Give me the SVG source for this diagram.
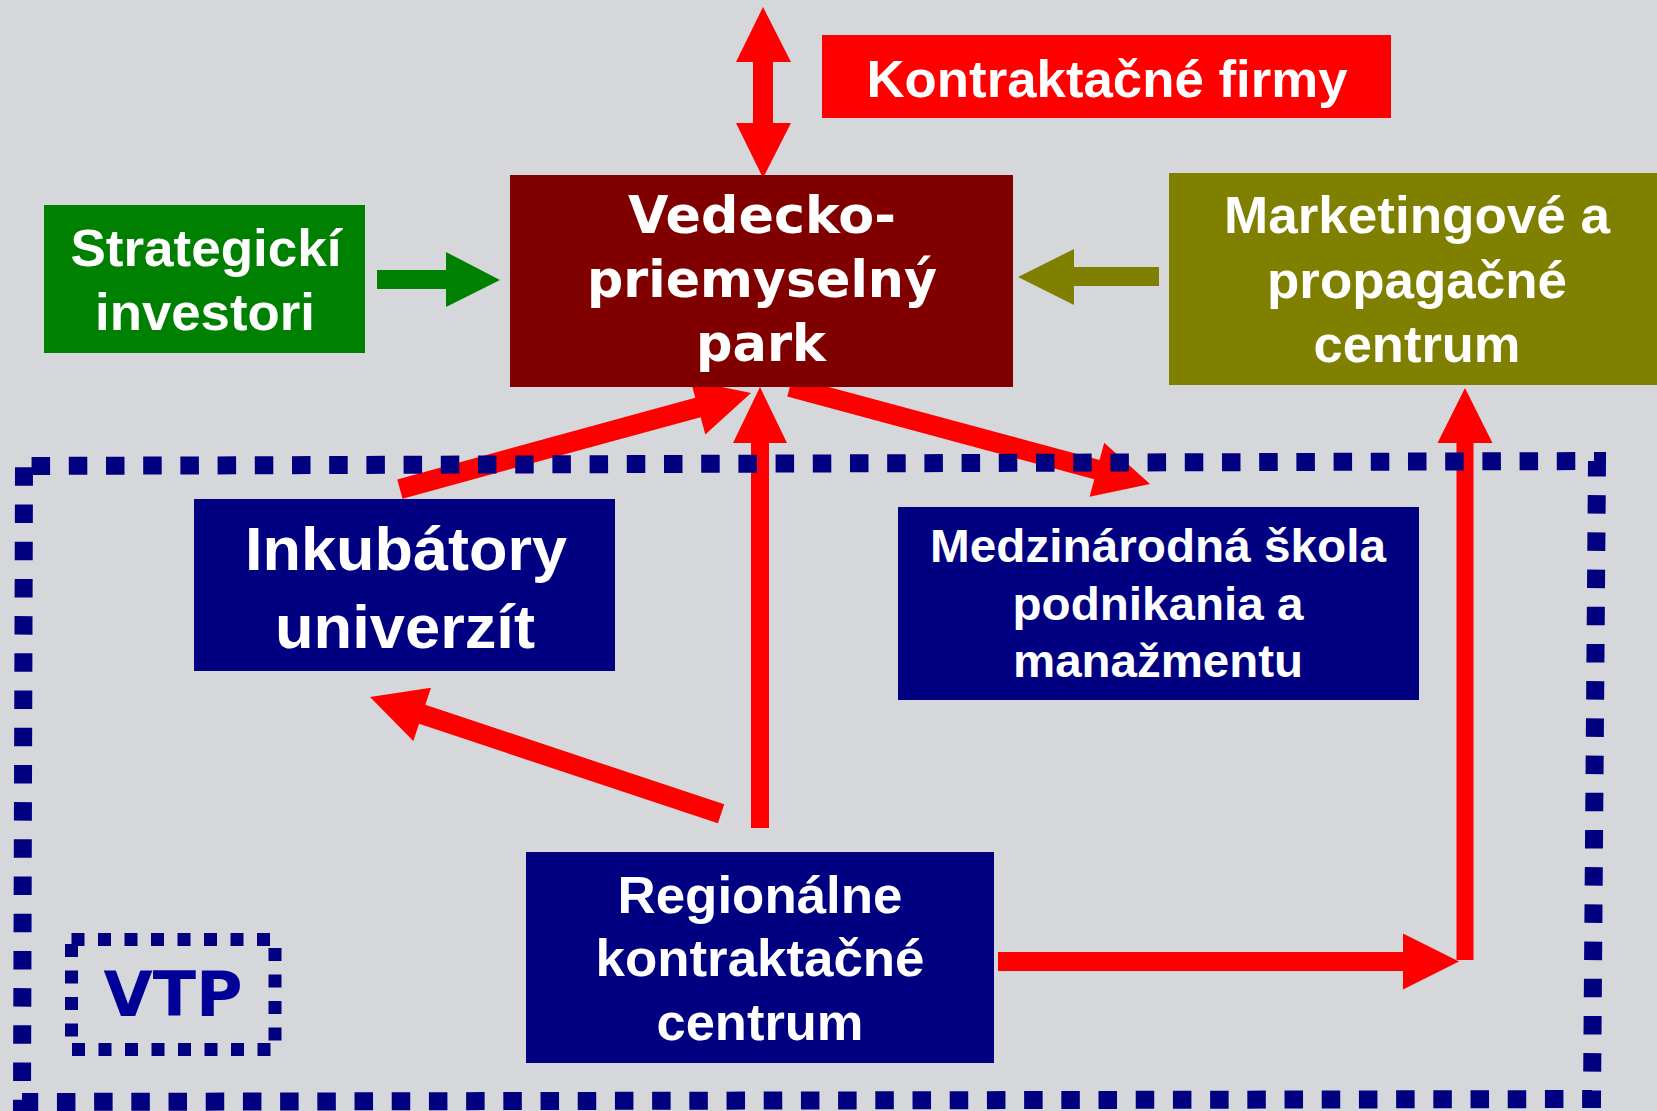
<svg xmlns="http://www.w3.org/2000/svg" width="1657" height="1111" viewBox="0 0 1657 1111">
<defs>
<style>
.t{fill:#fff;font-family:"Liberation Sans",Arial,sans-serif;font-weight:bold;text-anchor:middle}
.d{fill:#fff;font-family:"DejaVu Sans",Verdana,sans-serif;font-weight:bold;text-anchor:middle}
.red{fill:#ff0000}
.navy{fill:#000080}
.dots{fill:none;stroke:#000080}
</style>
</defs>
<rect x="0" y="0" width="1657" height="1111" fill="#d6d7db"/>

<g id="connectors">
  <polygon class="red" points="763,7 791,62 773,62 773,123 791,123 763,178 736,123 753,123 753,62 736,62"/>
  <polygon fill="#008000" points="377,270 446,270 446,252 500,280 446,307 446,289 377,289"/>
  <polygon fill="#808000" points="1159,267 1074,267 1074,249 1018,277 1074,305 1074,286 1159,286"/>
  <polygon class="red" transform="translate(751,393) rotate(-15.3)" points="-364,-10 -55,-10 -55,-28 0,0 -55,28 -55,10 -364,10"/>
  <polygon class="red" transform="translate(760,387) rotate(-90)" points="-441,-9 -56,-9 -56,-27 0,0 -56,27 -56,9 -441,9"/>
  <polygon class="red" transform="translate(1150,484) rotate(15.1)" points="-373,-10 -55,-10 -55,-28 0,0 -55,28 -55,10 -373,10"/>
  <polygon class="red" transform="translate(370,697) rotate(198.4)" points="-370,-10 -55,-10 -55,-28 0,0 -55,28 -55,10 -370,10"/>
  <polygon class="red" transform="translate(1459,961.5)" points="-461,-9.5 -56,-9.5 -56,-28 0,0 -56,28 -56,9.5 -461,9.5"/>
  <polygon class="red" transform="translate(1465,388) rotate(-90)" points="-572,-8.5 -55,-8.5 -55,-27.5 0,0 -55,27.5 -55,8.5 -572,8.5"/>
</g>

<g id="vtp-boundary">
  <path class="dots" stroke-width="18" stroke-dasharray="18.5 18.7" stroke-dashoffset="29.6" d="M24 466 L1597 461 L1592 1099 L22 1102 Z"/>
</g>

<g id="node-kontraktacne-firmy">
  <rect x="822" y="35" width="569" height="83" class="red"/>
  <text class="t" x="1107" y="97" font-size="52" textLength="481" lengthAdjust="spacingAndGlyphs">Kontraktačné firmy</text>
</g>

<g id="node-strategicki-investori">
  <rect x="44" y="205" width="321" height="148" fill="#008000"/>
  <text class="t" x="206" y="266" font-size="52" textLength="271" lengthAdjust="spacingAndGlyphs">Strategickí</text>
  <text class="t" x="205" y="330" font-size="52" textLength="220" lengthAdjust="spacingAndGlyphs">investori</text>
</g>

<g id="node-vedecko-priemyselny-park">
  <rect x="510" y="175" width="503" height="212" fill="#800000"/>
  <text class="d" x="762" y="233" font-size="51" textLength="268" lengthAdjust="spacingAndGlyphs">Vedecko-</text>
  <text class="d" x="762" y="297" font-size="51" textLength="350" lengthAdjust="spacingAndGlyphs">priemyselný</text>
  <text class="d" x="761" y="361" font-size="51" textLength="130" lengthAdjust="spacingAndGlyphs">park</text>
</g>

<g id="node-marketingove-centrum">
  <rect x="1169" y="173" width="488" height="212" fill="#808000"/>
  <text class="t" x="1417" y="233" font-size="52" textLength="386" lengthAdjust="spacingAndGlyphs">Marketingové a</text>
  <text class="t" x="1417" y="298" font-size="52" textLength="300" lengthAdjust="spacingAndGlyphs">propagačné</text>
  <text class="t" x="1417" y="362" font-size="52" textLength="207" lengthAdjust="spacingAndGlyphs">centrum</text>
</g>

<g id="node-inkubatory-univerzit">
  <rect x="194" y="499" width="421" height="172" class="navy"/>
  <text class="t" x="406" y="570" font-size="62" textLength="322" lengthAdjust="spacingAndGlyphs">Inkubátory</text>
  <text class="t" x="405" y="648" font-size="62" textLength="260" lengthAdjust="spacingAndGlyphs">univerzít</text>
</g>

<g id="node-medzinarodna-skola">
  <rect x="898" y="507" width="521" height="193" class="navy"/>
  <text class="t" x="1158" y="562" font-size="47" textLength="456" lengthAdjust="spacingAndGlyphs">Medzinárodná škola</text>
  <text class="t" x="1158" y="620" font-size="47" textLength="291" lengthAdjust="spacingAndGlyphs">podnikania a</text>
  <text class="t" x="1158" y="677" font-size="47" textLength="290" lengthAdjust="spacingAndGlyphs">manažmentu</text>
</g>

<g id="node-regionalne-centrum">
  <rect x="526" y="852" width="468" height="211" class="navy"/>
  <text class="t" x="760" y="913" font-size="52" textLength="285" lengthAdjust="spacingAndGlyphs">Regionálne</text>
  <text class="t" x="760" y="976" font-size="52" textLength="329" lengthAdjust="spacingAndGlyphs">kontraktačné</text>
  <text class="t" x="760" y="1040" font-size="52" textLength="207" lengthAdjust="spacingAndGlyphs">centrum</text>
</g>

<g id="node-vtp">
  <rect x="71.5" y="939.5" width="203.5" height="110" class="dots" stroke-width="13" stroke-dasharray="13 13.5"/>
  <text x="173" y="1016" font-size="62" font-family="'DejaVu Sans',Verdana,sans-serif" font-weight="bold" text-anchor="middle" fill="#000099" textLength="139" lengthAdjust="spacingAndGlyphs">VTP</text>
</g>
</svg>
